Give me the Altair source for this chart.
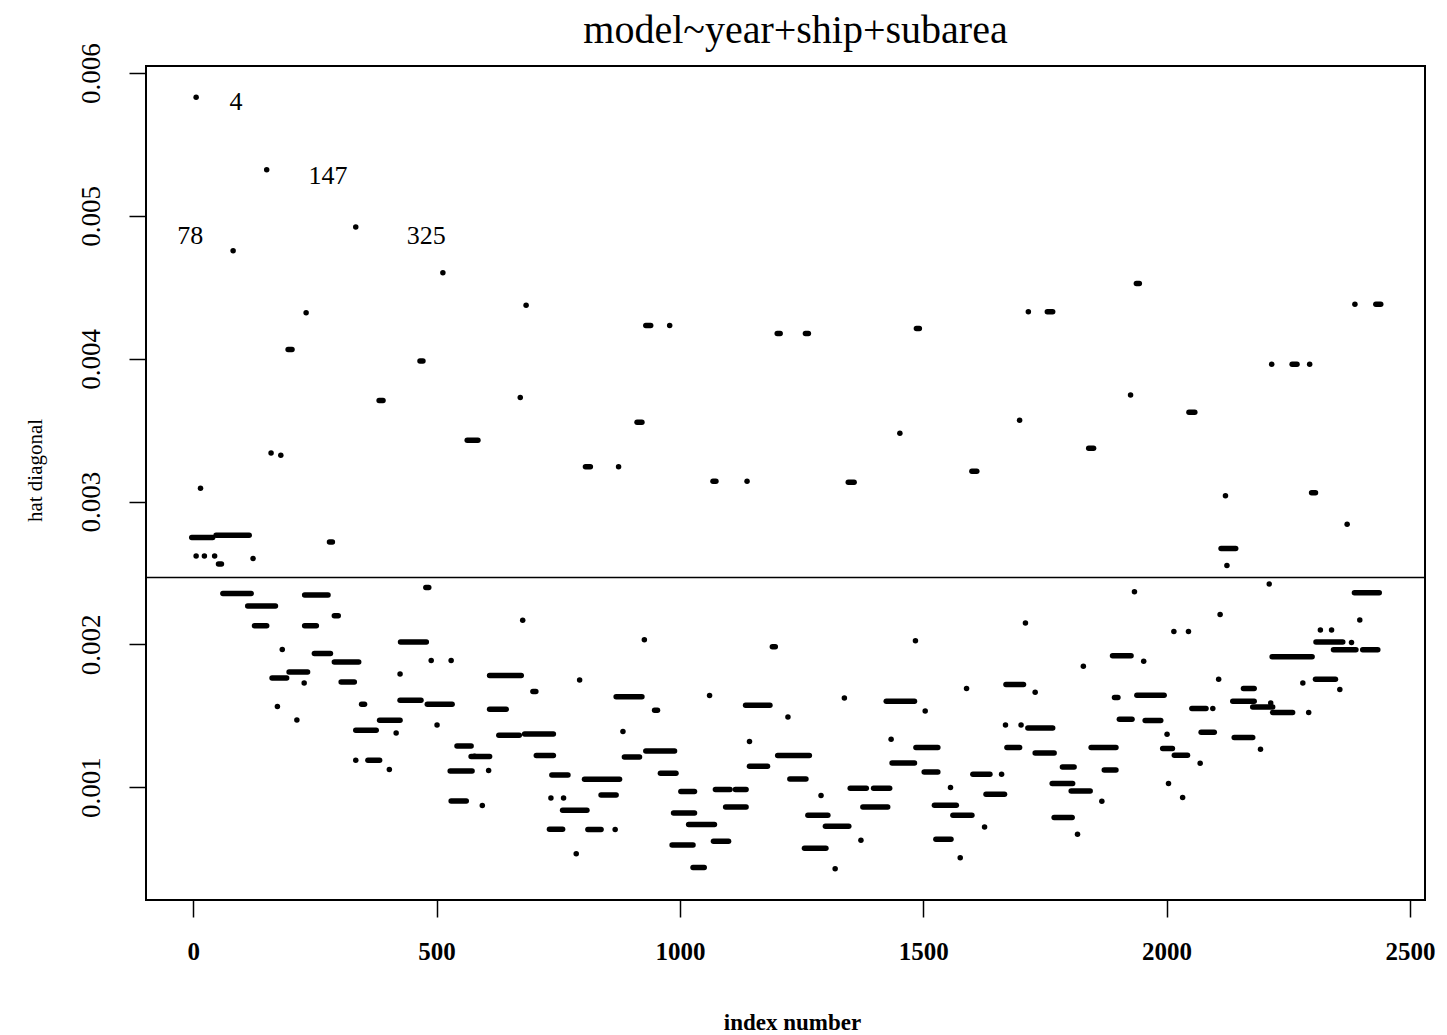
import altair as alt
import pandas as pd

# Clusters of hat-diagonal values: each run of equal values spans index range [seg_start, seg_end]
seg_start = [6, 151, 82, 334, 513, 232, 195, 466, 382, 563, 160, 180, 684, 930, 979, 1200, 672, 912, 806, 874,
             1068, 1138, 1716, 1755, 1258, 1486, 1698, 1452, 1840, 1600, 1346, 1938, 2387, 2430, 2216, 2258, 2294,
             1926, 2046, 2121, 2298, 2371, 2112, 2124, 15, -3, 47, 6, 23, 44, 52, 123, 280,
             61, 229, 478, 112, 290, 126, 229, 426, 183, 249, 290, 489, 530, 425, 197, 162, 228, 304, 425, 481, 173,
             346, 213, 383, 334, 417, 501, 542, 578, 334, 359, 403, 528, 530,
             677, 927, 1190, 609, 794, 698, 869, 1061, 609, 948, 1135, 1222, 628, 681, 883, 1143, 571, 705, 886, 930,
             1201, 607, 737, 804, 960, 1143, 1226, 594, 735, 761, 838, 1002, 1073, 1114, 759, 987, 1094, 1018, 732,
             811, 867, 1069, 984, 787, 1027,
             1710, 1484, 1829, 1589, 1670, 1730, 1338, 1424, 1504, 1669, 1701, 1715, 1434, 1485, 1672, 1845, 1730,
             1436, 1502, 1602, 1661, 1872, 1350, 1398, 1290, 1556, 1629, 1786, 1765, 1804, 1867, 1376, 1523, 1561,
             1263, 1299, 1372, 1256, 1319, 1526, 1626, 1576, 1769, 1817,
             1934, 2211, 2386, 2110, 2397, 2015, 2045, 2316, 2339, 2307, 2380, 2343, 2403, 1889, 1953, 2217, 2107,
             2158, 2280, 2306, 2356, 1893, 1939, 2136, 2177, 2214, 2218, 2292, 2052, 2095, 1903, 1956, 2001, 2071,
             2139, 2193, 1992, 2016, 2069, 2004, 2033]
seg_end = [6, 151, 82, 334, 513, 232, 203, 472, 390, 585, 160, 180, 684, 940, 979, 1206, 672, 922, 816, 874,
           1074, 1138, 1716, 1766, 1264, 1492, 1698, 1452, 1850, 1610, 1358, 1944, 2387, 2440, 2216, 2268, 2294,
           1926, 2058, 2121, 2306, 2371, 2142, 2124, 15, 40, 115, 6, 23, 44, 58, 123, 286,
           119, 277, 484, 169, 298, 151, 253, 479, 183, 282, 340, 489, 530, 425, 235, 192, 228, 331, 468, 532, 173,
           352, 213, 425, 376, 417, 501, 571, 578, 334, 383, 403, 573, 561,
           677, 927, 1196, 674, 794, 704, 922, 1061, 643, 954, 1185, 1222, 670, 740, 883, 1143, 609, 740, 917, 989,
           1266, 607, 770, 876, 992, 1180, 1259, 594, 735, 761, 869, 1030, 1103, 1136, 809, 1030, 1136, 1071, 759,
           838, 867, 1100, 1027, 787, 1050,
           1710, 1484, 1829, 1589, 1706, 1730, 1338, 1482, 1504, 1669, 1701, 1766, 1434, 1530, 1698, 1896, 1769,
           1482, 1530, 1637, 1661, 1896, 1383, 1431, 1290, 1556, 1667, 1810, 1807, 1843, 1867, 1427, 1568, 1600,
           1304, 1347, 1372, 1300, 1319, 1557, 1626, 1576, 1806, 1817,
           1934, 2211, 2437, 2110, 2397, 2015, 2045, 2316, 2339, 2362, 2380, 2389, 2434, 1927, 1953, 2299, 2107,
           2180, 2280, 2347, 2356, 1900, 1995, 2180, 2218, 2214, 2259, 2292, 2081, 2095, 1929, 1988, 2001, 2098,
           2177, 2193, 2012, 2043, 2069, 2004, 2033]
seg_hat = [0.005832, 0.005323, 0.004756, 0.004922, 0.004602, 0.004322, 0.004065, 0.003985, 0.003708, 0.00343,
           0.00334, 0.003325, 0.004375, 0.004233, 0.004233, 0.004177, 0.003729, 0.003556, 0.003243, 0.003243,
           0.003143, 0.003143, 0.004329, 0.004329, 0.004177, 0.004212, 0.00357, 0.003479, 0.003374, 0.003213,
           0.003136, 0.004527, 0.004382, 0.004382, 0.003962, 0.003962, 0.003962, 0.003747, 0.003626, 0.00304,
           0.003061, 0.002842, 0.002672, 0.002553, 0.003094, 0.002749, 0.002765, 0.002618, 0.002618, 0.002618,
           0.002562, 0.002601, 0.002716,
           0.002356, 0.002345, 0.002398, 0.002268, 0.0022, 0.00213, 0.00213, 0.002017, 0.001964, 0.001936, 0.001877,
           0.001887, 0.001887, 0.001793, 0.001807, 0.001765, 0.00173, 0.001737, 0.001609, 0.001581, 0.001565,
           0.001581, 0.001471, 0.001469, 0.001399, 0.00138, 0.001436, 0.001289, 0.001217, 0.001189, 0.001189,
           0.001124, 0.001114, 0.000904,
           0.002169, 0.002032, 0.001983, 0.001782, 0.001751, 0.00167, 0.001633, 0.001642, 0.001546, 0.001539,
           0.001574, 0.001492, 0.001364, 0.001373, 0.00139, 0.00132, 0.001215, 0.001222, 0.001212, 0.001254,
           0.001222, 0.001117, 0.001086, 0.001056, 0.001098, 0.001147, 0.001058, 0.000872, 0.000925, 0.000925,
           0.000946, 0.00097, 0.000984, 0.000984, 0.000839, 0.00082, 0.000862, 0.000739, 0.000706, 0.000704,
           0.000704, 0.000622, 0.000596, 0.000533, 0.000438,
           0.00215, 0.002025, 0.001847, 0.001691, 0.001719, 0.001665, 0.001625, 0.001602, 0.001534, 0.001436,
           0.001436, 0.001415, 0.001336, 0.001278, 0.001278, 0.001278, 0.00124, 0.00117, 0.001107, 0.001091,
           0.001091, 0.00112, 0.000993, 0.000993, 0.000942, 0.000998, 0.000951, 0.001142, 0.001026, 0.000974,
           0.000902, 0.000862, 0.000874, 0.000804, 0.000804, 0.000727, 0.000629, 0.000573, 0.000428, 0.000636,
           0.000722, 0.000505, 0.000788, 0.000671,
           0.002368, 0.002422, 0.002361, 0.002209, 0.00217, 0.00209, 0.00209, 0.0021, 0.0021, 0.002017, 0.002013,
           0.001962, 0.001962, 0.00192, 0.001882, 0.001913, 0.001756, 0.001691, 0.00173, 0.001756, 0.001684,
           0.001628, 0.001644, 0.001602, 0.001562, 0.00159, 0.001523, 0.001523, 0.001551, 0.001551, 0.001476,
           0.001467, 0.001371, 0.001385, 0.001348, 0.001266, 0.001271, 0.001224, 0.001168, 0.001026, 0.000928]

label_text = ["4", "147", "78", "325"]
label_x = [88, 277, -6, 479]
label_y = [0.0058, 0.005279, 0.004859, 0.004859]

mean_hat = [0.002469]

x_ticks = [0, 500, 1000, 1500, 2000, 2500]
y_ticks = [0.001, 0.002, 0.003, 0.004, 0.005, 0.006]

FONT = "Liberation Serif"

segs = pd.DataFrame({"start": seg_start, "end": seg_end, "hat": seg_hat})
labels = pd.DataFrame({"text": label_text, "x": label_x, "y": label_y})
hline = pd.DataFrame({"hat": mean_hat})

xscale = alt.Scale(domain=[-97, 2531], nice=False, zero=False)
yscale = alt.Scale(domain=[0.00021, 0.00605], nice=False, zero=False)

xaxis = alt.Axis(values=x_ticks, format="d", title="index number", grid=False, domain=False,
                 tickSize=17, tickColor="black", tickWidth=1.5, labelPadding=22,
                 labelFont=FONT, labelFontSize=25, labelFontWeight="bold", labelColor="black",
                 titleFont=FONT, titleFontSize=23, titleFontWeight="bold", titleColor="black",
                 titleX=646, titleY=122, titleBaseline="middle")
yaxis = alt.Axis(values=y_ticks, format=".3f", title="hat diagonal", grid=False, domain=False,
                 tickSize=17, tickColor="black", tickWidth=1.5, labelPadding=24,
                 labelAngle=-90, labelAlign="center", labelBaseline="bottom",
                 labelFont=FONT, labelFontSize=27, labelFontWeight="normal", labelColor="black",
                 titleFont=FONT, titleFontSize=21, titleFontWeight="normal", titleColor="black",
                 titleX=-111, titleY=404, titleBaseline="middle")

points = alt.Chart(segs).mark_rule(color="black", strokeWidth=5.5, strokeCap="round").encode(
    x=alt.X("start:Q", scale=xscale, axis=xaxis),
    x2="end:Q",
    y=alt.Y("hat:Q", scale=yscale, axis=yaxis),
)

ref = alt.Chart(hline).mark_rule(color="black", strokeWidth=1.5).encode(
    y=alt.Y("hat:Q", scale=yscale)
)

text = alt.Chart(labels).mark_text(font=FONT, fontSize=26, color="black", align="center",
                                    baseline="middle").encode(
    x=alt.X("x:Q", scale=xscale),
    y=alt.Y("y:Q", scale=yscale),
    text="text:N",
)

chart = alt.layer(points, ref, text).properties(
    width=1279,
    height=834,
    background="white",
    title=alt.TitleParams("model~year+ship+subarea", font=FONT, fontSize=40, fontWeight="normal",
                          color="black", anchor="middle", dx=10, dy=26, offset=18),
    autosize=alt.AutoSizeParams(type="none"),
    padding={"left": 146, "top": 66, "right": 22, "bottom": 135},
).configure_view(stroke="black", strokeWidth=2, strokeOpacity=1)

chart.save("out.html", embed_options={"renderer": "svg", "actions": False})
